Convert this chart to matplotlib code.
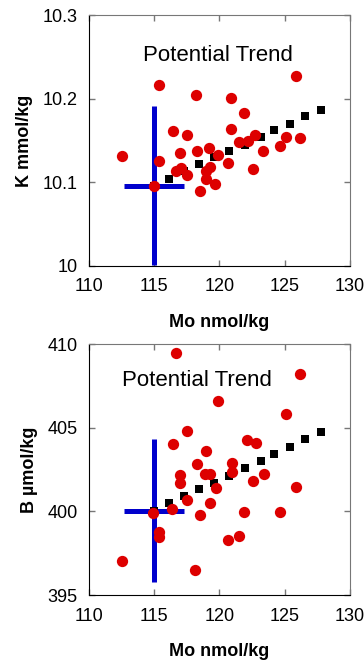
import matplotlib
matplotlib.use("Agg")
import matplotlib.pyplot as plt

plt.rcParams["font.family"] = ["Liberation Sans", "DejaVu Sans"]

# measured samples, top panel (K)
k_mo = [112.56, 114.96, 115.37, 115.37, 116.44, 116.70, 116.98, 117.03, 117.52,
        117.54, 118.18, 118.24, 118.52, 118.95, 118.98, 119.18, 119.31, 119.67,
        119.90, 120.69, 120.87, 120.87, 121.50, 121.89, 122.20, 122.58, 122.74,
        123.35, 124.63, 125.09, 125.88, 126.16]
k_val = [10.131, 10.096, 10.216, 10.125, 10.161, 10.114, 10.135, 10.117, 10.109,
         10.156, 10.204, 10.137, 10.090, 10.114, 10.104, 10.141, 10.118, 10.098,
         10.133, 10.123, 10.164, 10.201, 10.148, 10.183, 10.149, 10.116, 10.157,
         10.138, 10.143, 10.154, 10.227, 10.153]

# measured samples, bottom panel (B)
b_mo = [112.56, 114.94, 115.37, 115.35, 116.39, 116.44, 116.70, 116.96, 116.96,
        117.54, 117.54, 118.16, 118.24, 118.49, 118.90, 118.95, 119.28, 119.28,
        119.72, 119.90, 120.69, 120.95, 120.95, 121.50, 121.89, 122.12, 122.58,
        122.76, 123.38, 124.63, 125.09, 125.88, 126.19]
b_val = [397.05, 399.88, 398.75, 398.49, 400.16, 404.00, 409.48, 402.15, 401.69,
         404.82, 400.70, 396.49, 402.83, 399.78, 402.25, 403.63, 402.25, 400.52,
         401.39, 406.59, 398.29, 402.87, 402.37, 398.55, 399.94, 404.24, 401.83,
         404.10, 402.23, 399.98, 405.84, 401.47, 408.19]

# trend squares
trend_mo = [115.0, 116.14, 117.3, 118.44, 119.59, 120.74, 121.94, 123.15,
            124.2, 125.4, 126.55, 127.78]
trend_k = [10.096, 10.104, 10.113, 10.122, 10.130, 10.137, 10.145, 10.154,
           10.162, 10.170, 10.179, 10.187]
trend_b = [400.05, 400.52, 400.92, 401.31, 401.71, 402.13, 402.59, 403.00,
           403.43, 403.86, 404.30, 404.74]

# reference point with uncertainty
ref_mo, ref_mo_err = 115.0, 2.3
ref_k, ref_k_err = 10.096, 0.095
ref_b, ref_b_err = 400.05, 4.25

red = "#dd0000"
blue = "#0000cc"

fig = plt.figure(figsize=(3.64, 6.61), dpi=100)
ax1 = fig.add_axes([0.2445, 0.5976, 0.717, 0.3797])
ax2 = fig.add_axes([0.2445, 0.0998, 0.717, 0.3797])

panels = [
    (ax1, k_mo, k_val, trend_k, ref_k, ref_k_err, (10.0, 10.3), [10, 10.1, 10.2, 10.3],
     ["10", "10.1", "10.2", "10.3"], "K mmol/kg", (119.9, 10.252)),
    (ax2, b_mo, b_val, trend_b, ref_b, ref_b_err, (395, 410), [395, 400, 405, 410],
     ["395", "400", "405", "410"], "B µmol/kg", (118.3, 407.8)),
]

for ax, mo, val, trend, ry, ry_err, ylim, yt, ytl, ylab, txt in panels:
    ax.errorbar([ref_mo], [ry], xerr=[ref_mo_err], yerr=[ry_err], fmt="none",
                ecolor=blue, elinewidth=3.6, capsize=0, zorder=2)
    ax.scatter(trend_mo, trend, marker="s", s=36, color="black", zorder=3,
               linewidths=0)
    ax.scatter(mo, val, marker="o", s=66, color=red, zorder=4, linewidths=0)
    ax.text(txt[0], txt[1], "Potential Trend", ha="center", va="center",
            fontsize=16)
    ax.set_xlim(110, 130)
    ax.set_ylim(*ylim)
    ax.set_xticks([110, 115, 120, 125, 130])
    ax.set_yticks(yt)
    ax.set_yticklabels(ytl)
    ax.tick_params(direction="in", length=4, width=1, color="#777777",
                   labelsize=13, top=True, right=True)
    ax.tick_params(axis="x", pad=9)
    ax.tick_params(axis="y", pad=8)
    ax.set_xlabel("Mo nmol/kg", fontsize=13, fontweight="bold", labelpad=13)
    ax.set_ylabel(ylab, fontsize=13, fontweight="bold", labelpad=7)
    for side in ["top", "right"]:
        ax.spines[side].set_color("#777777")
    for side in ["left", "bottom"]:
        ax.spines[side].set_color("black")

fig.savefig("out.png", dpi=100)
